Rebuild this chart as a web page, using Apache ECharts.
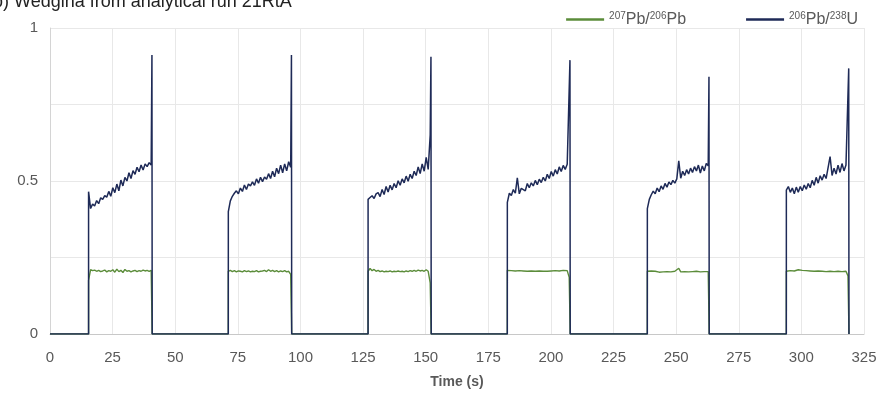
<!DOCTYPE html>
<html><head><meta charset="utf-8">
<script src="https://cdn.jsdelivr.net/npm/echarts@6/dist/echarts.min.js"></script>
<style>html,body{margin:0;padding:0;background:#fff}#c{width:883px;height:396px}</style>
</head><body><div id="c"></div>
<script>
// Time (s) of each ablation window
const runStart = [15.4, 71.2, 127.0, 182.6, 238.5, 294.0];
const runEnd   = [40.7, 96.4, 152.1, 207.6, 263.1, 318.9];
// 206Pb/238U spike at end of each window
const spikePeak = [0.912, 0.912, 0.906, 0.895, 0.841, 0.868];

// 206Pb/238U signal, sampled evenly inside each window
const u1 = [0.465,0.41,0.425,0.418,0.436,0.426,0.445,0.44,0.452,0.447,0.466,0.45,0.478,0.462,0.49,0.468,0.503,0.484,0.512,0.5,0.527,0.508,0.534,0.522,0.545,0.53,0.552,0.536,0.556,0.547,0.56,0.552];
const u2 = [0.40,0.435,0.45,0.46,0.468,0.458,0.477,0.466,0.487,0.472,0.49,0.484,0.497,0.486,0.507,0.493,0.512,0.498,0.513,0.506,0.524,0.508,0.532,0.514,0.542,0.524,0.552,0.527,0.556,0.533,0.563,0.545];
const u3 = [0.44,0.446,0.452,0.443,0.458,0.462,0.449,0.472,0.456,0.482,0.464,0.486,0.471,0.492,0.478,0.501,0.486,0.507,0.494,0.516,0.499,0.522,0.508,0.532,0.518,0.546,0.524,0.556,0.532,0.577,0.538,0.65];
const u4 = [0.43,0.46,0.453,0.472,0.46,0.51,0.458,0.476,0.482,0.468,0.492,0.478,0.494,0.484,0.502,0.488,0.506,0.495,0.512,0.5,0.522,0.508,0.531,0.516,0.537,0.523,0.546,0.531,0.551,0.538,0.555,0.55];
const u5 = [0.41,0.44,0.455,0.467,0.458,0.477,0.465,0.484,0.473,0.492,0.48,0.497,0.488,0.502,0.493,0.507,0.566,0.509,0.532,0.518,0.537,0.523,0.542,0.528,0.547,0.533,0.552,0.526,0.549,0.533,0.557,0.55];
const u6 = [0.47,0.482,0.463,0.477,0.458,0.48,0.463,0.482,0.468,0.487,0.473,0.492,0.478,0.502,0.486,0.512,0.493,0.517,0.503,0.522,0.508,0.514,0.58,0.518,0.542,0.523,0.552,0.528,0.557,0.533,0.552,0.547];

// 207Pb/206Pb signal, same sampling
const p1 = [0.175,0.21,0.207,0.209,0.205,0.208,0.204,0.206,0.209,0.203,0.207,0.205,0.21,0.202,0.212,0.204,0.208,0.201,0.211,0.205,0.207,0.203,0.206,0.208,0.204,0.207,0.205,0.209,0.206,0.208,0.205,0.208];
const p2 = [0.205,0.208,0.204,0.207,0.203,0.206,0.205,0.203,0.207,0.204,0.206,0.203,0.205,0.204,0.207,0.203,0.205,0.206,0.208,0.204,0.21,0.205,0.208,0.204,0.207,0.203,0.206,0.204,0.207,0.203,0.205,0.195];
const p3 = [0.205,0.214,0.207,0.211,0.205,0.208,0.204,0.206,0.203,0.205,0.204,0.206,0.203,0.205,0.204,0.206,0.204,0.205,0.203,0.206,0.204,0.207,0.205,0.208,0.205,0.209,0.206,0.208,0.205,0.21,0.205,0.167];
const p4 = [0.208,0.203,0.207,0.202,0.206,0.204,0.207,0.203,0.206,0.204,0.205,0.203,0.206,0.204,0.205,0.203,0.206,0.204,0.205,0.203,0.205,0.204,0.206,0.203,0.207,0.204,0.206,0.205,0.208,0.204,0.207,0.185];
const p5 = [0.205,0.204,0.206,0.203,0.205,0.204,0.202,0.205,0.203,0.206,0.204,0.207,0.203,0.208,0.205,0.21,0.215,0.203,0.209,0.204,0.206,0.203,0.205,0.204,0.203,0.205,0.204,0.203,0.205,0.204,0.203,0.204];
const p6 = [0.205,0.203,0.207,0.204,0.206,0.205,0.21,0.204,0.208,0.205,0.207,0.203,0.206,0.204,0.205,0.203,0.206,0.203,0.205,0.202,0.204,0.203,0.205,0.202,0.204,0.203,0.205,0.202,0.204,0.203,0.205,0.19];

const yTickLabels = {0: '0', 0.5: '0.5', 1: '1'};
const titleText = 'b) Wedgina from analytical run 21RtA';
const nameA = '207Pb/206Pb';
const nameB = '206Pb/238U';

const uRuns = [u1,u2,u3,u4,u5,u6];
const pRuns = [p1,p2,p3,p4,p5,p6];

function build(runs, withSpike) {
  const out = [[0, 0]];
  runs.forEach((vals, k) => {
    const s = runStart[k], e = runEnd[k];
    out.push([s, 0]);
    const last = e - 0.3;
    const step = (last - s) / (vals.length - 1);
    vals.forEach((v, i) => out.push([s + i * step, v]));
    if (withSpike) out.push([e, spikePeak[k]]);
    out.push([e + 0.1, 0]);
    if (k < runs.length - 1) out.push([runStart[k + 1] - 0.01, 0]);
  });
  return out;
}

const chart = echarts.init(document.getElementById('c'));
const font = 'Liberation Sans, Arial, sans-serif';
chart.setOption({
  animation: false,
  title: { text: titleText, left: -12, top: -12, textStyle: { fontFamily: font, fontSize: 18, fontWeight: 'normal', color: '#222' } },
  legend: {
    data: [nameA, nameB], right: 20, top: 6, itemGap: 60, icon: 'rect', itemWidth: 38, itemHeight: 2.5,
    formatter: n => n === nameA ? '{s|207}{n|Pb/}{s|206}{n|Pb}' : '{s|206}{n|Pb/}{s|238}{n|U}',
    textStyle: { fontFamily: font, color: '#595959',
      rich: { n: { fontSize: 16, fontFamily: font, color: '#595959', lineHeight: 18 },
              s: { fontSize: 10, fontFamily: font, color: '#595959', lineHeight: 18, padding: [0, 0, 7, 0] } } }
  },
  grid: { left: 50, right: 19, top: 28, bottom: 62, containLabel: false },
  xAxis: {
    type: 'value', min: 0, max: 325, interval: 25,
    name: 'Time (s)', nameLocation: 'middle', nameGap: 41,
    nameTextStyle: { fontFamily: font, fontSize: 14, fontWeight: 'bold', color: '#595959' },
    axisLine: { show: true, lineStyle: { color: '#c8c8c8', width: 1 } },
    axisTick: { show: false },
    axisLabel: { fontFamily: font, fontSize: 15, color: '#595959', margin: 16 },
    splitLine: { show: true, lineStyle: { color: '#e8e8e8', width: 1 } }
  },
  yAxis: {
    type: 'value', min: 0, max: 1, interval: 0.25,
    axisLine: { show: true, lineStyle: { color: '#d4d4d4', width: 1 } },
    axisTick: { show: false },
    axisLabel: { fontFamily: font, fontSize: 15, color: '#595959', margin: 12,
      formatter: v => yTickLabels[v] !== undefined ? yTickLabels[v] : '' },
    splitLine: { show: true, lineStyle: { color: '#e8e8e8', width: 1 } }
  },
  series: [
    { name: nameA, type: 'line', data: build(pRuns, false), showSymbol: false, symbol: 'none',
      lineStyle: { color: '#5b8c3a', width: 1.4 }, itemStyle: { color: '#5b8c3a' }, z: 2 },
    { name: nameB, type: 'line', data: build(uRuns, true), showSymbol: false, symbol: 'none',
      lineStyle: { color: '#1e2a57', width: 1.5 }, itemStyle: { color: '#1e2a57' }, z: 3 }
  ]
});
</script></body></html>
